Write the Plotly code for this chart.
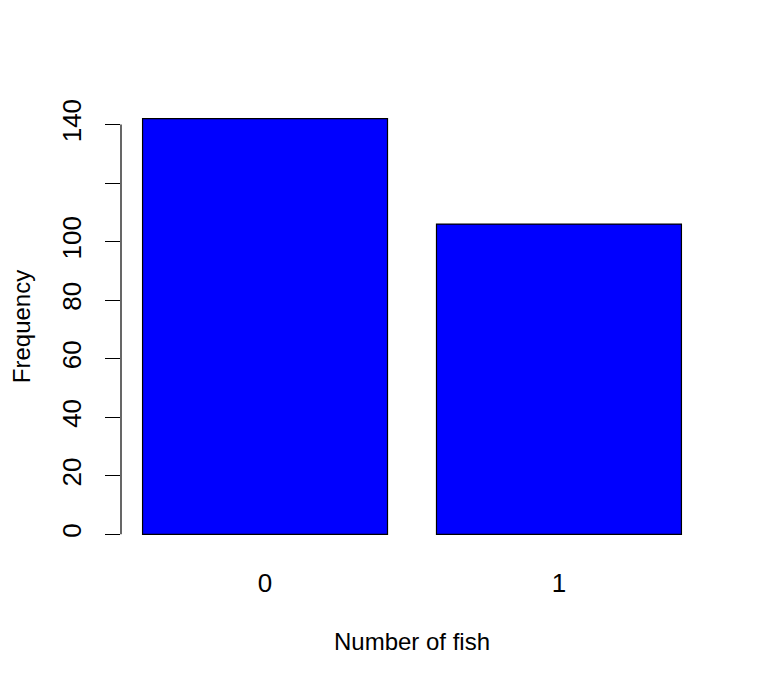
"""Bar chart of fish counts, R barplot style."""

import plotly.graph_objects as go

# data
fish_counts = ["0", "1"]
frequency = [142, 106]
y_ticks = [0, 20, 40, 60, 80, 100, 120, 140]
y_tick_labels = ["0", "20", "40", "60", "80", "100", "", "140"]

FONT = "Liberation Sans, Arial, Helvetica, sans-serif"
PAGE_OFFSET = 8  # default body margin of the html page

# R barplot layout: bar width 1, space 0.2
bar_width = 1.0
space = 0.2
centers = [space + bar_width / 2 + i * (bar_width + space) for i in range(len(frequency))]
x_lo = space
x_hi = len(frequency) * (bar_width + space)
x_pad = 0.04 * (x_hi - x_lo)
y_pad = 0.04 * max(frequency)

fig = go.Figure(go.Bar(
    x=centers,
    y=frequency,
    width=bar_width,
    marker=dict(color="#0000ff", line=dict(color="black", width=1.2)),
))

fig.update_layout(
    width=763 - PAGE_OFFSET,
    height=689 - PAGE_OFFSET,
    plot_bgcolor="white",
    paper_bgcolor="white",
    showlegend=False,
    margin=dict(l=121 - PAGE_OFFSET, r=60, t=102 - PAGE_OFFSET, b=138),
    font=dict(family=FONT, size=20, color="black"),
    xaxis=dict(
        range=[x_lo - x_pad, x_hi + x_pad],
        tickmode="array",
        tickvals=centers,
        ticktext=fish_counts,
        tickfont_size=26,
        showgrid=False,
        zeroline=False,
        showline=False,
        ticks="",
        ticklabelstandoff=14,
        automargin=False,
        title=dict(text="Number of fish", standoff=36),
    ),
    yaxis=dict(
        range=[-y_pad, max(frequency) + y_pad],
        tickmode="array",
        tickvals=y_ticks,
        ticktext=y_tick_labels,
        tickfont_size=26,
        tickangle=-90,
        showgrid=False,
        zeroline=False,
        showline=False,
        ticks="outside",
        ticklen=15,
        tickwidth=1.2,
        tickcolor="black",
        ticklabelstandoff=14,
        automargin=False,
        title=dict(text="Frequency", standoff=26),
    ),
)

# y axis line only spans the tick range, like R
fig.add_shape(type="line", xref="paper", yref="y",
              x0=0, x1=0, y0=y_ticks[0], y1=y_ticks[-1],
              line=dict(color="black", width=1.2))

fig.write_html("out.html")
